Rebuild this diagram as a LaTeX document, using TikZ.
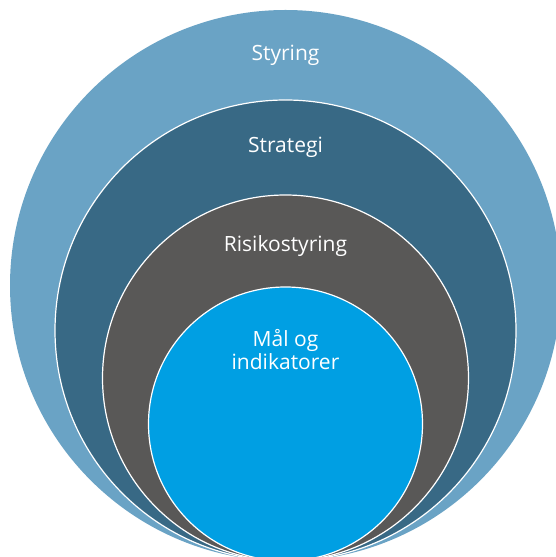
\documentclass[tikz,border=0pt]{standalone}
\usepackage{fontspec}
\setmainfont{Open Sans}
\definecolor{ringA}{HTML}{6AA3C5}
\definecolor{ringB}{HTML}{386985}
\definecolor{ringC}{HTML}{595857}
\definecolor{ringD}{HTML}{009FE3}

\begin{document}
\begin{tikzpicture}[x=1pt,y=1pt,
  ring/.style={draw=white,line width=1.2pt},
  lbl/.style={text=white,font=\fontsize{21}{23}\selectfont,align=center,inner sep=0pt}]
\clip (0,0) rectangle (556,557);
\fill[white] (0,0) rectangle (556,557);
\coordinate (A) at (285.5,271.5);
\coordinate (B) at (285.5,226.5);
\coordinate (C) at (285.5,179);
\coordinate (D) at (285.5,133);
\fill[ringA] (A) circle [radius=275.5];
\draw[ring,fill=ringB] (B) circle [radius=230.5];
\draw[ring,fill=ringC] (C) circle [radius=183];
\draw[ring,fill=ringD] (D) circle [radius=137];
%\draw[red] (0,0) grid (556,557);
\node[lbl] (styring) at (285.5,502) {Styring};
\node[lbl] (strategi) at (285.5,410) {Strategi};
\node[lbl] (risiko) at (285.5,311) {Risikostyring};
\node[lbl] (maal) at (285.5,207) {Mål og\\indikatorer};
\end{tikzpicture}
\end{document}
